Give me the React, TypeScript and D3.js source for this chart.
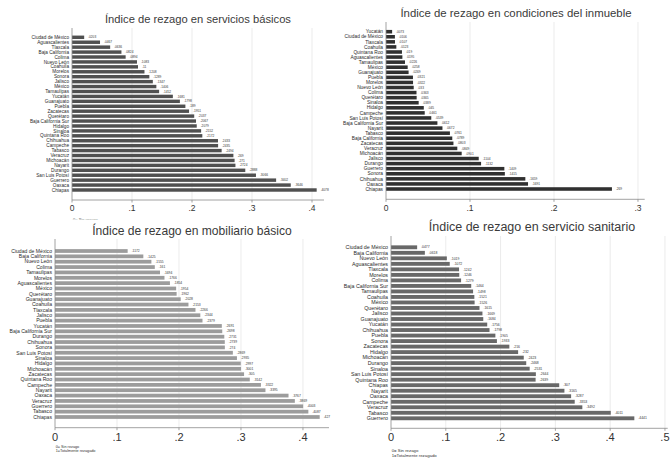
import React from "react";
import * as d3 from "d3";

// ---------- DATA ----------
const basicosNames = ["Ciudad de México","Aguascalientes","Tlaxcala","Baja California","Colima","Nuevo León","Coahuila","Morelos","Sonora","Jalisco","México","Tamaulipas","Yucatán","Guanajuato","Puebla","Zacatecas","Querétaro","Baja California Sur","Hidalgo","Sinaloa","Quintana Roo","Chihuahua","Campeche","Tabasco","Veracruz","Michoacán","Nayarit","Durango","San Luis Potosí","Guerrero","Oaxaca","Chiapas"];
const basicosValues = [0.0203,0.0467,0.0636,0.0824,0.0894,0.1083,0.11,0.1208,0.1289,0.1347,0.1406,0.1452,0.1681,0.1798,0.189,0.1951,0.2037,0.2067,0.2079,0.2152,0.2172,0.2433,0.2435,0.2494,0.269,0.271,0.2724,0.2888,0.3066,0.3402,0.3646,0.4078];

const inmuebleNames = ["Yucatán","Ciudad de México","Tlaxcala","Coahuila","Quintana Roo","Aguascalientes","Tamaulipas","México","Guanajuato","Puebla","Morelos","Nuevo León","Colima","Querétaro","Sinaloa","Hidalgo","Campeche","San Luis Potosí","Baja California Sur","Nayarit","Tabasco","Baja California","Zacatecas","Veracruz","Michoacán","Jalisco","Durango","Guerrero","Sonora","Chihuahua","Oaxaca","Chiapas"];
const inmuebleValues = [0.0073,0.0106,0.0107,0.0123,0.019,0.0195,0.0226,0.0258,0.0269,0.0321,0.0322,0.033,0.0363,0.0365,0.0389,0.045,0.0461,0.0539,0.0612,0.0672,0.0761,0.0789,0.0803,0.0849,0.0901,0.1104,0.1132,0.1409,0.1415,0.1659,0.1691,0.269];

const mobiliarioNames = ["Ciudad de México","Baja California","Nuevo León","Colima","Tamaulipas","Morelos","Aguascalientes","México","Querétaro","Guanajuato","Coahuila","Tlaxcala","Jalisco","Puebla","Yucatán","Baja California Sur","Durango","Chihuahua","Sonora","San Luis Potosí","Sinaloa","Hidalgo","Michoacán","Zacatecas","Quintana Roo","Campeche","Nayarit","Oaxaca","Veracruz","Guerrero","Tabasco","Chiapas"];
const mobiliarioValues = [0.1172,0.1425,0.1555,0.161,0.1694,0.1766,0.1854,0.1954,0.1962,0.2028,0.2153,0.2266,0.2344,0.2379,0.2691,0.2698,0.2731,0.2739,0.274,0.2869,0.2935,0.2997,0.3001,0.305,0.3142,0.3322,0.3395,0.3767,0.3869,0.4003,0.4087,0.427];

const sanitarioNames = ["Ciudad de México","Baja California","Nuevo León","Aguascalientes","Tlaxcala","Morelos","Colima","Baja California Sur","Tamaulipas","Coahuila","México","Querétaro","Jalisco","Guanajuato","Yucatán","Chihuahua","Puebla","Sonora","Zacatecas","Hidalgo","Michoacán","Durango","Sinaloa","San Luis Potosí","Quintana Roo","Chiapas","Nayarit","Oaxaca","Campeche","Veracruz","Tabasco","Guerrero"];
const sanitarioValues = [0.0477,0.0618,0.1019,0.1072,0.1242,0.1246,0.1279,0.1464,0.1498,0.1521,0.1526,0.1615,0.1669,0.1684,0.1756,0.1798,0.1905,0.1933,0.216,0.232,0.2423,0.2468,0.2531,0.2644,0.2639,0.307,0.3165,0.3287,0.3353,0.3492,0.4011,0.4441];

const ticksTop1 = [0, 0.1, 0.2, 0.3, 0.4];
const ticksTop2 = [0, 0.1, 0.2, 0.3];
const ticksBot1 = [0, 0.1, 0.2, 0.3, 0.4];
const ticksBot2 = [0, 0.1, 0.2, 0.3, 0.4, 0.5];

const titles = [
  "Índice de rezago en servicios básicos",
  "Índice de rezago en condiciones del inmueble",
  "Índice de rezago en mobiliario básico",
  "Índice de rezago en servicio sanitario",
];
const note1 = "0= Sin rezago";
const note2 = "1=Totalmente rezagado";

// ---------- HELPERS ----------
const FONT = "'Liberation Sans', Arial, Helvetica, sans-serif";
const fmtVal = (v: number) => String(v).replace(/^0/, "");
const fmtTick = (v: number) => (v === 0 ? "0" : String(+v.toFixed(1)).replace(/^0/, ""));

type PanelCfg = {
  id: string;
  title: string;
  titleX: number;
  titleY: number;
  titleSize: number;
  names: string[];
  values: number[];
  ticks: number[];
  dMax: number;
  x0: number;
  x1: number;
  top: number;
  axisY: number;
  first: number;
  last: number;
  barColor: string;
  labelSize: number;
  valueSize: number;
  tickSize: number;
  tickLabelY: number;
  notes: string[];
  noteX: number;
  noteY: number;
  noteSize: number;
  noteStep: number;
  clipBottom?: number;
};

function Panel({ c }: { c: PanelCfg }) {
  const x = d3.scaleLinear().domain([0, c.dMax]).range([c.x0, c.x1]);
  const step = (c.last - c.first) / (c.names.length - 1);
  const y = d3
    .scaleBand<string>()
    .domain(c.names)
    .range([c.first - step / 2, c.last + step / 2])
    .paddingInner(0.3)
    .paddingOuter(0.15);
  const bw = y.bandwidth();
  return (
    <g fontFamily={FONT}>
      <text x={c.titleX} y={c.titleY} textAnchor="middle" fontSize={c.titleSize} fill="#3a3a3a">
        {c.title}
      </text>
      {c.ticks.filter((t) => t > 0).map((t) => (
        <line key={"g" + t} x1={x(t)} x2={x(t)} y1={c.top} y2={c.axisY} stroke="#e6e6e6" strokeWidth={0.8} />
      ))}
      {c.names.map((n, i) => (
        <g key={n}>
          <rect x={x(0)} y={y(n)!} width={x(c.values[i]) - x(0)} height={bw} fill={c.barColor} />
          <text x={x(0) - 3} y={y(n)! + bw / 2} dy="0.35em" textAnchor="end" fontSize={c.labelSize} fill="#2a2a2a">
            {n}
          </text>
          <text x={x(c.values[i]) + 4} y={y(n)! + bw / 2} dy="0.35em" fontSize={c.valueSize} fill="#333">
            {fmtVal(c.values[i])}
          </text>
        </g>
      ))}
      <line x1={c.x0} x2={c.x0} y1={c.top} y2={c.axisY} stroke="#8a8a8a" strokeWidth={0.8} />
      <line x1={c.x0} x2={c.x1} y1={c.axisY} y2={c.axisY} stroke="#8a8a8a" strokeWidth={0.8} />
      {c.ticks.map((t) => (
        <g key={"t" + t}>
          <line x1={x(t)} x2={x(t)} y1={c.axisY} y2={c.axisY + 2.5} stroke="#8a8a8a" strokeWidth={0.8} />
          <text x={x(t)} y={c.tickLabelY} textAnchor="middle" fontSize={c.tickSize} fill="#333">
            {fmtTick(t)}
          </text>
        </g>
      ))}
      <g clipPath={c.clipBottom ? `url(#clip-${c.id})` : undefined}>
        {c.clipBottom ? (
          <clipPath id={`clip-${c.id}`}>
            <rect x={0} y={0} width={670} height={c.clipBottom} />
          </clipPath>
        ) : null}
        {c.notes.map((t, i) => (
          <text key={t} x={c.noteX} y={c.noteY + i * c.noteStep} fontSize={c.noteSize} fill="#333">
            {t}
          </text>
        ))}
      </g>
    </g>
  );
}

const panels: PanelCfg[] = [
  {
    id: "a", title: titles[0], titleX: 198, titleY: 22.5, titleSize: 11.2,
    names: basicosNames, values: basicosValues, ticks: ticksTop1, dMax: 0.42,
    x0: 72, x1: 324, top: 28, axisY: 200, first: 37.3, last: 190,
    barColor: "#505050", labelSize: 4.7, valueSize: 3.2, tickSize: 8.5, tickLabelY: 211,
    notes: [note1], noteX: 73, noteY: 221, noteSize: 4, noteStep: 4.5, clipBottom: 219.5,
  },
  {
    id: "b", title: titles[1], titleX: 516, titleY: 17, titleSize: 11.4,
    names: inmuebleNames, values: inmuebleValues, ticks: ticksTop2, dMax: 0.308,
    x0: 386, x1: 644.7, top: 22, axisY: 199.3, first: 31.7, last: 189,
    barColor: "#303030", labelSize: 4.8, valueSize: 3.2, tickSize: 8.5, tickLabelY: 210.5,
    notes: [], noteX: 0, noteY: 0, noteSize: 4, noteStep: 4.5,
  },
  {
    id: "c", title: titles[2], titleX: 192, titleY: 234.5, titleSize: 12.1,
    names: mobiliarioNames, values: mobiliarioValues, ticks: ticksBot1, dMax: 0.442,
    x0: 55, x1: 329, top: 239, axisY: 427.7, first: 251, last: 417,
    barColor: "#9c9c9c", labelSize: 5.1, valueSize: 3.3, tickSize: 11, tickLabelY: 441,
    notes: [note1, note2], noteX: 55.7, noteY: 447.5, noteSize: 3.8, noteStep: 4.7,
  },
  {
    id: "d", title: titles[3], titleX: 532, titleY: 231, titleSize: 12.5,
    names: sanitarioNames, values: sanitarioValues, ticks: ticksBot2, dMax: 0.505,
    x0: 391, x1: 667.7, top: 236, axisY: 428.3, first: 247.3, last: 418.3,
    barColor: "#686868", labelSize: 5.3, valueSize: 3.4, tickSize: 11, tickLabelY: 441.3,
    notes: [note1, note2], noteX: 391.7, noteY: 451.5, noteSize: 4.3, noteStep: 5,
  },
];

export default function App() {
  return (
    <svg
      width={670}
      height={459}
      viewBox="0 0 670 459"
      style={{ position: "absolute", left: 0, top: 0, background: "#fff" }}
    >
      <rect x={0} y={0} width={670} height={459} fill="#fff" />
      {panels.map((p) => (
        <Panel key={p.id} c={p} />
      ))}
    </svg>
  );
}
